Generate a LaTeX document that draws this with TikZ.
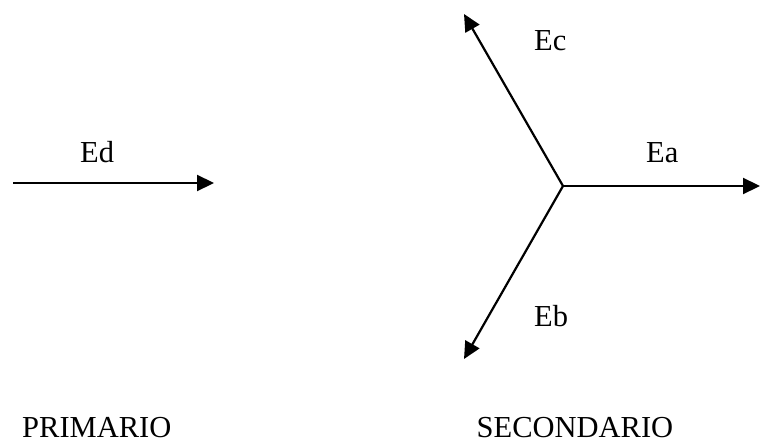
\documentclass[tikz,border=0pt]{standalone}
\usepackage{fontspec}
\setmainfont{Liberation Serif}
\usetikzlibrary{arrows.meta}
\begin{document}
\begin{tikzpicture}[x=1pt,y=1pt,
  vec/.style={line width=2.2pt,-{Triangle[length=17pt,width=16pt]}},
  lbl/.style={anchor=base west,inner sep=0pt,font=\fontsize{30.5}{36}\selectfont}]
\useasboundingbox (0,-444) rectangle (760,0);
% primary phasor
\coordinate (d0) at (13,-183);
\coordinate (d1) at (214,-183);
\draw[vec] (d0) -- (d1);
% secondary star
\coordinate (o) at (563,-186);
\coordinate (ta) at (760,-186);
\coordinate (tc) at (464,-14);
\coordinate (tb) at (464,-359);
\draw[vec] (o) -- (ta);
\draw[vec] (o) -- (tc);
\draw[vec] (o) -- (tb);
% labels
\node[lbl] (ed) at (80,-162) {Ed};
\node[lbl] (ec) at (534,-51) {Ec};
\node[lbl] (ea) at (646,-162) {Ea};
\node[lbl] (eb) at (534,-326) {Eb};
\node[lbl] (pri) at (22,-437) {PRIMARIO};
\node[lbl,anchor=base] (sec) at (575,-437) {SECONDARIO};
\end{tikzpicture}
\end{document}
